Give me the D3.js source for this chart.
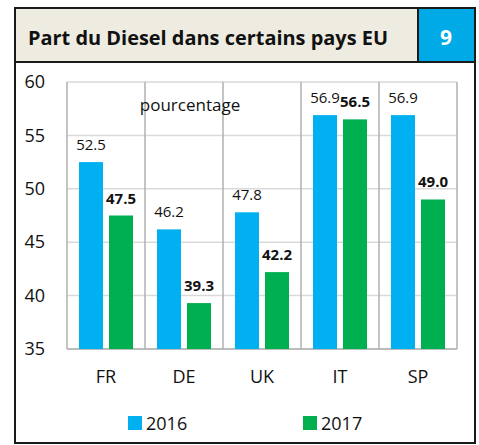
<!DOCTYPE html>
<html>
<head>
<meta charset="utf-8">
<script src="https://cdn.jsdelivr.net/npm/d3@7"></script>
<style>
  body { margin: 0; background: #fff; }
  svg text { font-family: "Open Sans", Lato, sans-serif; }
</style>
</head>
<body>
<div id="chart"></div>
<script>
// data
const countries = ["FR", "DE", "UK", "IT", "SP"];
const years = ["2016", "2017"];
const values2016 = [52.5, 46.2, 47.8, 56.9, 56.9];
const values2017 = [47.5, 39.3, 42.2, 56.5, 49.0];
const yTicks = [35, 40, 45, 50, 55, 60];
const colors = ["#00b0f0", "#00b050"];

const W = 479, H = 445;
const plot = { left: 67, right: 457, top: 82, bottom: 349 };

const svg = d3.select("#chart")
  .append("svg")
  .attr("width", W)
  .attr("height", H);

// frame
svg.append("rect")
  .attr("x", 15).attr("y", 8)
  .attr("width", 460).attr("height", 435)
  .attr("fill", "#fff")
  .attr("stroke", "#1a1a1a")
  .attr("stroke-width", 2);

// title box
svg.append("rect")
  .attr("x", 15).attr("y", 8)
  .attr("width", 403).attr("height", 54)
  .attr("fill", "#eeece1")
  .attr("stroke", "#1a1a1a")
  .attr("stroke-width", 2);

svg.append("rect")
  .attr("x", 418).attr("y", 8)
  .attr("width", 57).attr("height", 54)
  .attr("fill", "#00aae6")
  .attr("stroke", "#1a1a1a")
  .attr("stroke-width", 2);

svg.append("text")
  .attr("x", 28).attr("y", 45)
  .attr("font-size", 19)
  .attr("font-weight", "bold")
  .attr("fill", "#111")
  .attr("textLength", 360)
  .attr("lengthAdjust", "spacingAndGlyphs")
  .text("Part du Diesel dans certains pays EU");

svg.append("text")
  .attr("x", 446).attr("y", 45)
  .attr("text-anchor", "middle")
  .attr("font-size", 21)
  .attr("font-weight", "bold")
  .attr("fill", "#fff")
  .text("9");

// scales
const x = d3.scaleBand()
  .domain(countries)
  .range([plot.left, plot.right])
  .paddingInner(0)
  .paddingOuter(0);

const xSub = d3.scaleBand()
  .domain(years)
  .range([0, x.bandwidth()])
  .paddingInner(0.2)
  .paddingOuter(0.4);

const y = d3.scaleLinear()
  .domain([35, 60])
  .range([plot.bottom, plot.top]);

// horizontal gridlines
svg.append("g")
  .selectAll("line")
  .data(yTicks)
  .enter()
  .append("line")
  .attr("x1", plot.left).attr("x2", plot.right)
  .attr("y1", d => y(d)).attr("y2", d => y(d))
  .attr("stroke", d => d === 35 ? "#a6a6a6" : "#d9d9d9")
  .attr("stroke-width", 1.5);

// vertical gridlines at category boundaries
const bounds = countries.map(c => x(c)).concat([plot.right]);
svg.append("g")
  .selectAll("line")
  .data(bounds)
  .enter()
  .append("line")
  .attr("x1", d => d).attr("x2", d => d)
  .attr("y1", plot.top).attr("y2", plot.bottom)
  .attr("stroke", "#b0b0b0")
  .attr("stroke-width", 1.5);

// y axis labels
const yAxis = svg.append("g")
  .attr("transform", `translate(${plot.left - 22},0)`)
  .call(d3.axisLeft(y).tickValues(yTicks).tickSize(0).tickPadding(0));
yAxis.select(".domain").remove();
yAxis.selectAll("text")
  .attr("font-size", 18)
  .attr("fill", "#111")
  .attr("font-family", "'Open Sans', Lato, sans-serif");

// x axis labels
const xAxis = svg.append("g")
  .attr("transform", `translate(0,${plot.bottom + 21})`)
  .call(d3.axisBottom(x).tickSize(0).tickPadding(0));
xAxis.select(".domain").remove();
xAxis.selectAll("text")
  .attr("font-size", 18)
  .attr("fill", "#111")
  .attr("font-family", "'Open Sans', Lato, sans-serif");

// bars
const rows = countries.map((c, i) => ({
  country: c,
  vals: [
    { year: "2016", v: values2016[i] },
    { year: "2017", v: values2017[i] }
  ]
}));

const groups = svg.append("g")
  .selectAll("g")
  .data(rows)
  .enter()
  .append("g")
  .attr("transform", d => `translate(${x(d.country)},0)`);

groups.selectAll("rect")
  .data(d => d.vals)
  .enter()
  .append("rect")
  .attr("x", d => xSub(d.year))
  .attr("y", d => y(d.v))
  .attr("width", xSub.bandwidth())
  .attr("height", d => plot.bottom - y(d.v))
  .attr("fill", (d, i) => colors[i]);

groups.selectAll("text")
  .data(d => d.vals)
  .enter()
  .append("text")
  .attr("x", d => xSub(d.year) + xSub.bandwidth() / 2)
  .attr("y", d => y(d.v) - 12)
  .attr("text-anchor", "middle")
  .attr("font-size", 15)
  .attr("font-weight", (d, i) => i === 1 ? "bold" : "normal")
  .attr("fill", "#111")
  .text(d => d.v.toFixed(1));

// note
svg.append("text")
  .attr("x", 190).attr("y", 111)
  .attr("text-anchor", "middle")
  .attr("font-size", 17)
  .attr("fill", "#111")
  .text("pourcentage");

// legend
const legendX = [128, 303];
const legend = svg.append("g")
  .selectAll("g")
  .data(years)
  .enter()
  .append("g")
  .attr("transform", (d, i) => `translate(${legendX[i]},416)`);

legend.append("rect")
  .attr("width", 14).attr("height", 14)
  .attr("fill", (d, i) => colors[i]);

legend.append("text")
  .attr("x", 18).attr("y", 14)
  .attr("font-size", 18)
  .attr("fill", "#111")
  .text(d => d);
</script>
</body>
</html>
